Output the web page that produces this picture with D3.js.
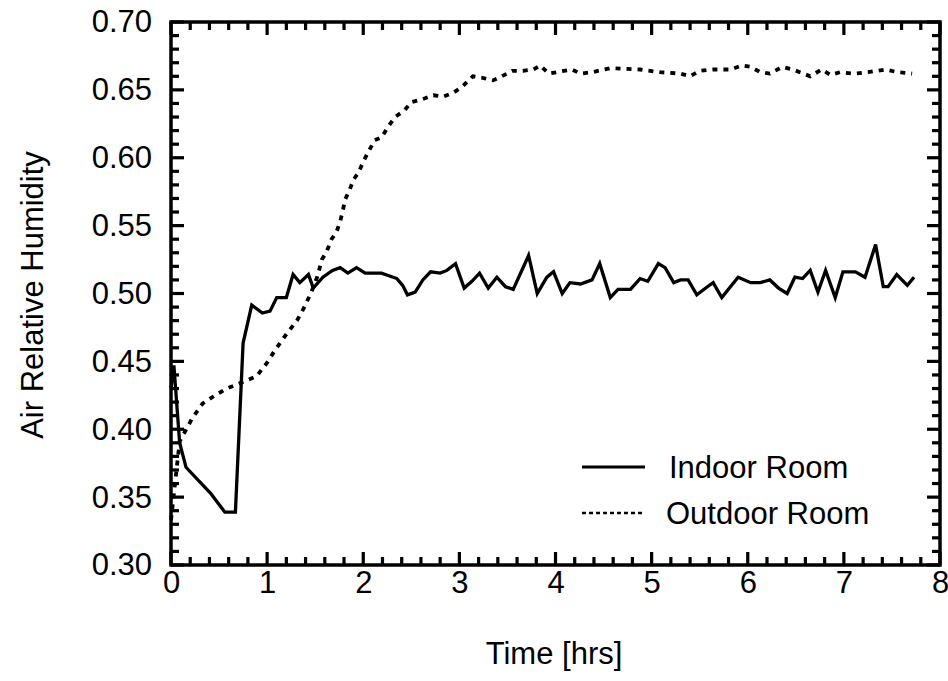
<!DOCTYPE html>
<html><head><meta charset="utf-8">
<script src="https://cdn.jsdelivr.net/npm/d3@7"></script>
<style>body{margin:0;background:#fff}svg{display:block}text{font-family:"Liberation Sans",Arial,sans-serif;fill:#000}</style>
</head><body><svg id="c" width="948" height="681"></svg>
<script>
const xTicks=[0,1,2,3,4,5,6,7,8];
const yTicks=[0.30,0.35,0.40,0.45,0.50,0.55,0.60,0.65,0.70];
const seriesNames=["Indoor Room","Outdoor Room"];
const indoorT=[0,0.03,0.09,0.156,0.41,0.56,0.67,0.75,0.84,0.95,1.03,1.10,1.20,1.27,1.34,1.43,1.48,1.58,1.68,1.76,1.84,1.93,2.02,2.19,2.35,2.41,2.46,2.54,2.62,2.70,2.80,2.87,2.96,3.05,3.13,3.21,3.30,3.39,3.48,3.56,3.72,3.81,3.91,3.98,4.07,4.15,4.26,4.38,4.46,4.57,4.65,4.78,4.88,4.96,5.07,5.14,5.23,5.30,5.38,5.47,5.58,5.64,5.73,5.82,5.90,6.03,6.13,6.23,6.32,6.41,6.49,6.57,6.65,6.73,6.81,6.91,6.99,7.12,7.22,7.33,7.41,7.46,7.55,7.66,7.73];
const indoorRH=[0.43,0.447,0.39,0.372,0.353,0.339,0.339,0.4635,0.4915,0.4856,0.487,0.497,0.497,0.514,0.508,0.514,0.504,0.512,0.517,0.519,0.515,0.519,0.515,0.515,0.511,0.506,0.499,0.501,0.510,0.516,0.515,0.517,0.522,0.504,0.509,0.515,0.504,0.512,0.505,0.503,0.528,0.500,0.512,0.516,0.500,0.508,0.507,0.510,0.522,0.497,0.503,0.503,0.511,0.509,0.522,0.519,0.508,0.510,0.510,0.499,0.505,0.508,0.497,0.505,0.512,0.508,0.508,0.510,0.504,0.500,0.512,0.511,0.517,0.501,0.517,0.497,0.516,0.516,0.512,0.536,0.505,0.505,0.514,0.506,0.512];
const outdoorT=[0,0.09,0.22,0.33,0.46,0.58,0.72,0.89,1.0,1.08,1.21,1.31,1.38,1.46,1.52,1.57,1.62,1.67,1.72,1.76,1.79,1.81,1.85,1.90,1.95,2.0,2.05,2.12,2.19,2.26,2.33,2.43,2.50,2.61,2.73,2.83,2.94,3.04,3.14,3.23,3.35,3.44,3.55,3.66,3.77,3.84,3.93,4.17,4.26,4.38,4.57,4.88,5.09,5.30,5.40,5.50,5.64,5.82,5.94,6.03,6.13,6.23,6.36,6.47,6.58,6.65,6.77,6.86,6.96,7.10,7.25,7.43,7.56,7.71];
const outdoorRH=[0.333,0.391,0.408,0.419,0.425,0.430,0.434,0.439,0.449,0.458,0.471,0.480,0.489,0.501,0.512,0.525,0.531,0.540,0.545,0.553,0.562,0.569,0.575,0.584,0.589,0.597,0.604,0.613,0.615,0.623,0.630,0.635,0.641,0.643,0.646,0.645,0.648,0.653,0.660,0.659,0.657,0.660,0.664,0.664,0.665,0.668,0.662,0.665,0.662,0.663,0.666,0.665,0.663,0.662,0.660,0.664,0.665,0.665,0.668,0.667,0.663,0.662,0.667,0.665,0.662,0.660,0.665,0.661,0.663,0.662,0.663,0.665,0.663,0.662];

const svg=d3.select("#c");
const L=171,R=940,T=22,B=565;
const x=d3.scaleLinear().domain([0,8]).range([L,R]);
const y=d3.scaleLinear().domain([0.30,0.70]).range([B,T]);
const FS=31;

// labels
const gx=svg.append("g").attr("transform",`translate(0,${B})`)
  .call(d3.axisBottom(x).tickValues(xTicks).tickSize(0).tickPadding(6).tickFormat(d3.format("d")));
gx.select(".domain").remove();
gx.selectAll("text").attr("font-size",FS).attr("font-family","Liberation Sans, Arial, sans-serif");
const gy=svg.append("g").attr("transform",`translate(${L},0)`)
  .call(d3.axisLeft(y).tickValues(yTicks).tickSize(0).tickPadding(19).tickFormat(d3.format(".2f")));
gy.select(".domain").remove();
gy.selectAll("text").attr("font-size",FS).attr("font-family","Liberation Sans, Arial, sans-serif");

svg.append("rect").attr("x",L).attr("y",T).attr("width",R-L).attr("height",B-T)
  .attr("fill","none").attr("stroke","#000").attr("stroke-width",3.5);

// inward ticks on all four sides
const xMinor=d3.range(0,41).map(i=>i*0.2), yMinor=d3.range(0,41).map(i=>0.30+i*0.01);
const tg=svg.append("g").attr("fill","#000");
xMinor.forEach((v,i)=>{
  const len=(i%5===0)?13:8, px=x(v);
  tg.append("rect").attr("x",px-1.6).attr("y",B-len).attr("width",3.2).attr("height",len);
  tg.append("rect").attr("x",px-1.6).attr("y",T).attr("width",3.2).attr("height",len);
});
yMinor.forEach((v,i)=>{
  const len=(i%5===0)?13:8, py=y(v);
  tg.append("rect").attr("x",L).attr("y",py-1.6).attr("width",len).attr("height",3.2);
  tg.append("rect").attr("x",R-len).attr("y",py-1.6).attr("width",len).attr("height",3.2);
});

const line=d3.line().x(d=>x(d[0])).y(d=>y(d[1]));
svg.append("path").datum(indoorT.map((t,i)=>[t,indoorRH[i]])).attr("d",line)
  .attr("fill","none").attr("stroke","#000").attr("stroke-width",3.3).attr("stroke-linejoin","miter");
svg.append("path").datum(outdoorT.map((t,i)=>[t,outdoorRH[i]])).attr("d",line)
  .attr("fill","none").attr("stroke","#000").attr("stroke-width",3.8).attr("stroke-dasharray","5,6");

// axis titles
svg.append("text").attr("x",554).attr("y",664).attr("text-anchor","middle").attr("font-size",FS).text("Time [hrs]");
svg.append("text").attr("transform",`translate(43,295) rotate(-90)`).attr("text-anchor","middle").attr("font-size",FS).text("Air Relative Humidity");

// legend
const lg=svg.append("g");
lg.append("line").attr("x1",582).attr("x2",645).attr("y1",467).attr("y2",467).attr("stroke","#000").attr("stroke-width",3);
lg.append("line").attr("x1",582).attr("x2",645).attr("y1",513).attr("y2",513).attr("stroke","#000").attr("stroke-width",2.5).attr("stroke-dasharray","4,3");
lg.append("text").attr("x",669).attr("y",478).attr("font-size",FS).text(seriesNames[0]);
lg.append("text").attr("x",666).attr("y",524).attr("font-size",FS).text(seriesNames[1]);
</script></body></html>
